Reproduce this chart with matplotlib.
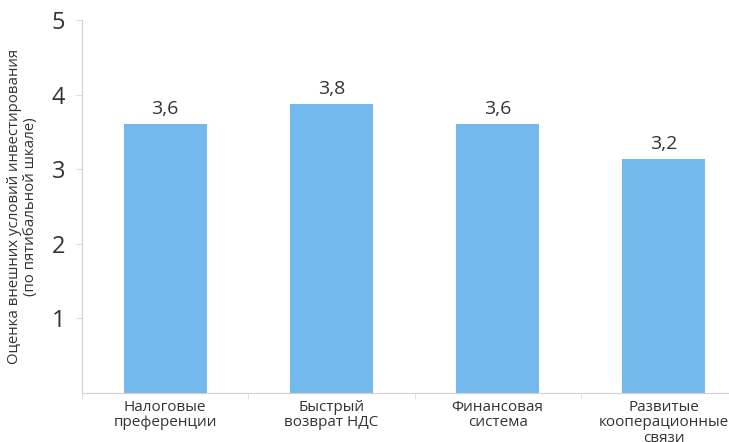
import matplotlib
matplotlib.use("Agg")
import matplotlib.pyplot as plt
import numpy as np

categories = ["Налоговые\nпреференции", "Быстрый\nвозврат НДС",
              "Финансовая\nсистема", "Развитые\nкооперационные\nсвязи"]
heights = [3.6, 3.87, 3.6, 3.14]
value_labels = ["3,6", "3,8", "3,6", "3,2"]
yticks = [1, 2, 3, 4, 5]

plt.rcParams["font.family"] = ["Open Sans", "DejaVu Sans"]

fig = plt.figure(figsize=(7.29, 4.42), dpi=100)
ax = fig.add_axes([82 / 729, 49 / 442, 665 / 729, 373 / 442])

x = np.arange(len(categories))
ax.bar(x, heights, width=0.5, color="#74b9ee", zorder=2)

for xi, h, lab in zip(x, heights, value_labels):
    ax.text(xi, h + 0.08, lab, ha="center", va="bottom", fontsize=14, color="#333333")

ax.set_xlim(-0.5, len(categories) - 0.5)
ax.set_ylim(0, 5)
ax.set_yticks(yticks)
ax.set_yticklabels([str(t) for t in yticks], fontsize=17, color="#333333")
ax.set_xticks(x)
ax.set_xticklabels(categories, fontsize=11, color="#333333", linespacing=1.05)
ax.set_xticks(np.arange(len(categories) + 1) - 0.5, minor=True)
ax.tick_params(axis="x", which="major", length=0, pad=5)
ax.tick_params(axis="x", which="minor", length=4, color="#dddddd")
ax.tick_params(axis="y", length=4, color="#dddddd", pad=8)

for side in ["top", "right"]:
    ax.spines[side].set_visible(False)
ax.spines["left"].set_color("#d0d0d0")
ax.spines["bottom"].set_color("#d0d0d0")

ax.set_ylabel("Оценка внешних условий инвестирования\n(по пятибальной шкале)",
              fontsize=10.8, color="#333333", linespacing=1.05, labelpad=10)

fig.savefig("out.png", dpi=100)
